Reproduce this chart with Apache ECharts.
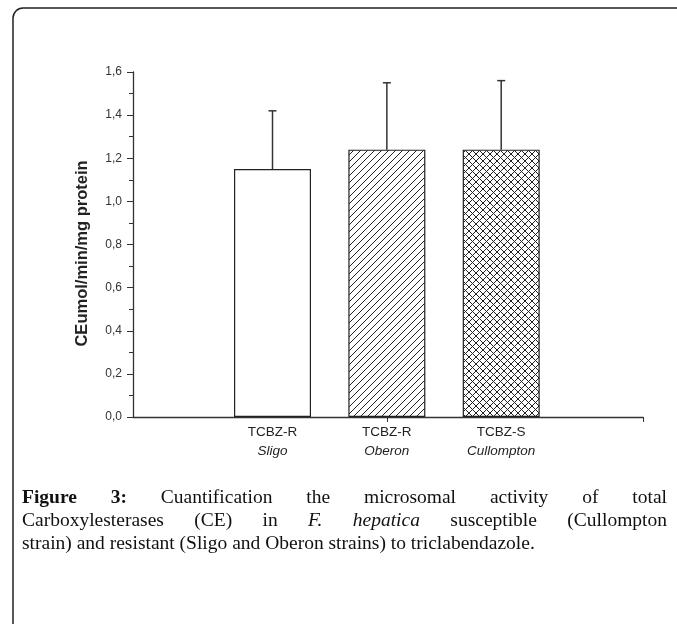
<!DOCTYPE html>
<html>
<head>
<meta charset="utf-8">
<script src="https://cdn.jsdelivr.net/npm/echarts@6/dist/echarts.min.js"></script>
<style>
html, body { margin: 0; padding: 0; background: #fff; }
#chart { width: 677px; height: 624px; }
</style>
</head>
<body>
<div id="chart"></div>
<script>
// données
var categories = ['TCBZ-R', 'TCBZ-R', 'TCBZ-S'];
var strains = ['Sligo', 'Oberon', 'Cullompton'];
var positions = [1, 2, 3];
var means = [1.15, 1.24, 1.24];
var errors = [0.27, 0.31, 0.32];
var yMin = 0, yMax = 1.6, yStep = 0.2;
var xMin = -0.22, xMax = 4.24;

var captionLines = [
    [['Figure', 'b'], ['3:', 'b'], ['Cuantification'], ['the'], ['microsomal'], ['activity'], ['of'], ['total']],
    [['Carboxylesterases'], ['(CE)'], ['in'], ['F.', 'i'], ['hepatica', 'i'], ['susceptible'], ['(Cullompton']],
    [['strain)'], ['and'], ['resistant'], ['(Sligo'], ['and'], ['Oberon'], ['strains)'], ['to'], ['triclabendazole.']]
];

// motifs de hachures
function makePattern(cross) {
    var s = 7;
    var c = document.createElement('canvas');
    c.width = s; c.height = s;
    var g = c.getContext('2d');
    g.fillStyle = '#fff';
    g.fillRect(0, 0, s, s);
    g.strokeStyle = '#222';
    g.lineWidth = 1;
    g.beginPath();
    for (var k = -1; k <= 1; k++) {
        g.moveTo(k * s, s); g.lineTo(k * s + s, 0);
        if (cross) { g.moveTo(k * s, 0); g.lineTo(k * s + s, s); }
    }
    g.stroke();
    return { image: c, repeat: 'repeat' };
}

var fills = ['#fff', makePattern(false), makePattern(true)];

var barData = positions.map(function (p, i) {
    return { value: [p, means[i]], itemStyle: { color: fills[i] } };
});
var errData = positions.map(function (p, i) {
    return [p, means[i], means[i] + errors[i]];
});

// légende justifiée
var serif = '"Liberation Serif", "DejaVu Serif", serif';
var fontSize = 19.5;
var measure = document.createElement('canvas').getContext('2d');
function fontOf(w) {
    return (w[1] === 'b' ? 'bold ' : '') + (w[1] === 'i' ? 'italic ' : '') + fontSize + 'px ' + serif;
}
function captionGraphics() {
    var out = [];
    var x0 = 22, x1 = 667, y0 = 498, lh = 23;
    captionLines.forEach(function (line, li) {
        var widths = line.map(function (w) { measure.font = fontOf(w); return measure.measureText(w[0]).width; });
        var total = widths.reduce(function (a, b) { return a + b; }, 0);
        measure.font = fontOf(['x']);
        var gap = li < captionLines.length - 1 ? (x1 - x0 - total) / (line.length - 1) : measure.measureText(' ').width;
        var x = x0;
        line.forEach(function (w, k) {
            out.push({
                type: 'text', x: x, y: y0 + li * lh,
                style: {
                    text: w[0], fill: '#111', font: fontOf(w),
                    textVerticalAlign: 'middle'
                }
            });
            x += widths[k] + gap;
        });
    });
    return out;
}

var chart = echarts.init(document.getElementById('chart'));

var option = {
    backgroundColor: '#fff',
    animation: false,
    grid: { left: 133, right: 34, top: 72, bottom: 207 },
    xAxis: {
        type: 'value',
        min: xMin,
        max: xMax,
        splitLine: { show: false },
        axisLine: { show: true, onZero: false, lineStyle: { color: '#333', width: 1.3 } },
        axisTick: { show: true, customValues: [2, xMax], length: 5, lineStyle: { color: '#333' } },
        axisLabel: {
            customValues: positions,
            margin: 6,
            formatter: function (v) {
                var i = positions.indexOf(Math.round(v));
                return '{a|' + categories[i] + '}\n{b|' + strains[i] + '}';
            },
            rich: {
                a: { fontFamily: '"Liberation Sans", Arial', fontSize: 13.5, color: '#222', lineHeight: 19 },
                b: { fontFamily: '"Liberation Sans", Arial', fontSize: 13.5, fontStyle: 'italic', color: '#222', lineHeight: 19 }
            }
        }
    },
    yAxis: {
        type: 'value',
        min: yMin,
        max: yMax,
        interval: yStep,
        name: 'CEumol/min/mg protein',
        nameLocation: 'middle',
        nameGap: 42,
        nameMoveOverlap: false,
        nameTextStyle: {
            fontFamily: '"Liberation Sans", Arial',
            fontSize: 16.5,
            fontWeight: 'bold',
            color: '#222',
            padding: [0, 18, 0, 0]
        },
        splitLine: { show: false },
        axisLine: { show: true, onZero: false, lineStyle: { color: '#333', width: 1.3 } },
        axisTick: { show: true, length: 6, lineStyle: { color: '#333' } },
        minorTick: { show: true, splitNumber: 2, length: 4, lineStyle: { color: '#333' } },
        axisLabel: {
            margin: 11,
            fontFamily: '"Liberation Sans", Arial',
            fontSize: 12,
            color: '#333',
            formatter: function (v) { return v.toFixed(1).replace('.', ','); }
        }
    },
    series: [
        {
            type: 'bar',
            barWidth: 77,
            data: barData,
            itemStyle: { borderColor: '#222', borderWidth: 1.2 }
        },
        {
            type: 'custom',
            data: errData,
            z: 3,
            renderItem: function (params, api) {
                var base = api.coord([api.value(0), api.value(1)]);
                var top = api.coord([api.value(0), api.value(2)]);
                var st = { stroke: '#333', lineWidth: 1.5 };
                return {
                    type: 'group',
                    children: [
                        { type: 'line', shape: { x1: base[0], y1: base[1], x2: top[0], y2: top[1] }, style: st },
                        { type: 'line', shape: { x1: top[0] - 4, y1: top[1], x2: top[0] + 4, y2: top[1] }, style: st }
                    ]
                };
            }
        }
    ],
    graphic: [
        {
            type: 'rect',
            shape: { x: 13, y: 8, width: 720, height: 700, r: 10 },
            style: { fill: null, stroke: '#222', lineWidth: 1.5 },
            silent: true
        }
    ].concat(captionGraphics())
};

chart.setOption(option);
</script>
</body>
</html>
